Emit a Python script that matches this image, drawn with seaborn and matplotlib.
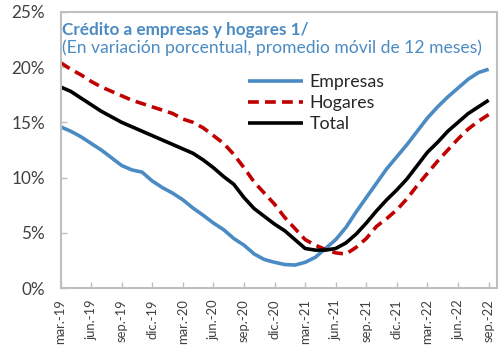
import matplotlib
matplotlib.use("Agg")
import matplotlib.pyplot as plt
import matplotlib.transforms as mtransforms
import numpy as np
import pandas as pd
import seaborn as sns

# Monthly series, mar-19 .. sep-22 (12-month moving average, % change)
months = ["mar.-19", "abr.-19", "may.-19", "jun.-19", "jul.-19", "ago.-19", "sep.-19",
          "oct.-19", "nov.-19", "dic.-19", "ene.-20", "feb.-20", "mar.-20", "abr.-20",
          "may.-20", "jun.-20", "jul.-20", "ago.-20", "sep.-20", "oct.-20", "nov.-20",
          "dic.-20", "ene.-21", "feb.-21", "mar.-21", "abr.-21", "may.-21", "jun.-21",
          "jul.-21", "ago.-21", "sep.-21", "oct.-21", "nov.-21", "dic.-21", "ene.-22",
          "feb.-22", "mar.-22", "abr.-22", "may.-22", "jun.-22", "jul.-22", "ago.-22",
          "sep.-22"]

empresas = [14.6, 14.2, 13.7, 13.1, 12.5, 11.8, 11.1, 10.7, 10.5, 9.7, 9.1, 8.6, 8.0, 7.25,
            6.6, 5.9, 5.3, 4.5, 3.9, 3.1, 2.6, 2.35, 2.15, 2.1, 2.35, 2.8, 3.6, 4.4, 5.5,
            6.9, 8.2, 9.5, 10.8, 11.9, 13.0, 14.2, 15.4, 16.4, 17.3, 18.1, 18.9, 19.5, 19.8]

hogares = [20.4, 19.8, 19.3, 18.7, 18.2, 17.8, 17.4, 17.0, 16.7, 16.4, 16.1, 15.8, 15.3, 15.0,
           14.5, 13.8, 13.1, 12.1, 10.9, 9.6, 8.6, 7.6, 6.4, 5.4, 4.4, 3.9, 3.5, 3.2, 3.1,
           3.7, 4.5, 5.6, 6.3, 7.1, 8.1, 9.3, 10.4, 11.5, 12.5, 13.5, 14.4, 15.1, 15.7]

total = [18.2, 17.8, 17.2, 16.6, 16.0, 15.5, 15.0, 14.6, 14.2, 13.8, 13.4, 13.0, 12.6, 12.2,
         11.6, 10.9, 10.1, 9.4, 8.2, 7.2, 6.5, 5.8, 5.2, 4.4, 3.6, 3.45, 3.45, 3.6, 4.1,
         4.9, 5.9, 7.0, 8.0, 8.9, 9.9, 11.1, 12.3, 13.2, 14.2, 15.0, 15.8, 16.4, 17.0]

series_names = ["Empresas", "Hogares", "Total"]
title = "Crédito a empresas y hogares 1/"
subtitle = "(En variación porcentual, promedio móvil de 12 meses)"
y_ticks = [0, 5, 10, 15, 20, 25]

BLUE = "#4B8BC3"
RED = "#C00000"
BLACK = "#000000"
GRAY = "#BFBFBF"
TEXT = "#404040"

df = pd.DataFrame({
    "idx": np.arange(len(months)),
    "Empresas": empresas,
    "Hogares": hogares,
    "Total": total,
})

sns.set_theme(style="white")
plt.rcParams["font.family"] = ["Lato", "DejaVu Sans"]

fig = plt.figure(figsize=(5.03, 3.54), dpi=100)
ax = fig.add_axes([60.5 / 503, 65.7 / 354, (497.3 - 60.5) / 503, (288.3 - 11.7) / 354])

styles = {
    "Empresas": dict(color=BLUE, linestyle="-"),
    "Hogares": dict(color=RED, linestyle=(0, (3.0, 1.7))),
    "Total": dict(color=BLACK, linestyle="-"),
}
for name in series_names:
    sns.lineplot(data=df, x="idx", y=name, ax=ax, label=name, linewidth=2.6,
                 color=styles[name]["color"], linestyle=styles[name]["linestyle"],
                 solid_capstyle="butt", dash_capstyle="butt")

ax.set_xlim(0, 42.85)
ax.set_ylim(0, 25)
ax.set_xlabel("")
ax.set_ylabel("")

tick_pos = list(range(0, len(months), 3))
ax.set_xticks(tick_pos)
ax.set_xticklabels([months[i] for i in tick_pos], rotation=90, fontsize=9.4, color=TEXT)
offset = mtransforms.ScaledTranslation(3 / 100, 0, fig.dpi_scale_trans)
for lbl in ax.get_xticklabels():
    lbl.set_transform(lbl.get_transform() + offset)

ax.set_yticks(y_ticks)
ax.set_yticklabels([f"{v}%" for v in y_ticks], fontsize=12.3, color=TEXT)

ax.tick_params(axis="both", direction="in", length=4, width=1, color=GRAY,
               bottom=True, left=True)
ax.tick_params(axis="x", pad=8)
ax.tick_params(axis="y", pad=11)
for sp in ax.spines.values():
    sp.set_visible(True)
    sp.set_color(GRAY)
    sp.set_linewidth(1.5)

ax.text(0.004, 0.935, title, transform=ax.transAxes, fontsize=12.3, fontweight="bold",
        color=BLUE, ha="left", va="center")
ax.text(0.004, 0.868, subtitle, transform=ax.transAxes, fontsize=12.6,
        color=BLUE, ha="left", va="center")

leg = ax.legend(loc="upper left", bbox_to_anchor=(0.43, 0.774), frameon=False,
                fontsize=12.8, handlelength=3.1, handletextpad=0.35, labelspacing=0.28,
                borderaxespad=0, borderpad=0)
for t in leg.get_texts():
    t.set_color("#262626")

fig.savefig("out.png", dpi=100)
